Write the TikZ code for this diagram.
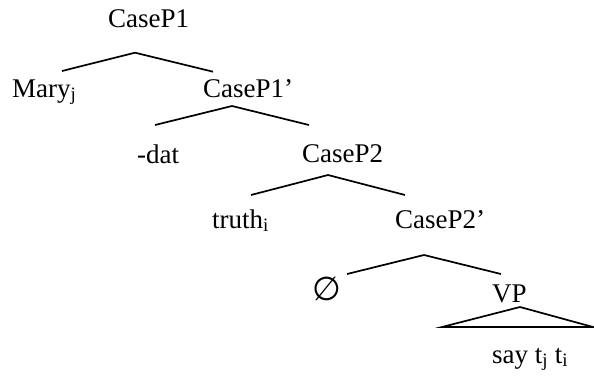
\documentclass[tikz,border=0pt]{standalone}
\usepackage{fontspec}
\setmainfont{Liberation Serif}
\newfontfamily\symfont{DejaVu Sans}
\begin{document}
\begin{tikzpicture}[x=1pt,y=-1pt,
  lbl/.style={anchor=base west,inner sep=0pt,font=\fontsize{27}{32}\selectfont},
  br/.style={line width=1.7pt}]
\useasboundingbox (0,0) rectangle (594,381);
% labels
\node[lbl] (cp1)  at (108,27)  {CaseP1};
\node[lbl] (mary) at (12,97)   {Mary\textsubscript{j}};
\node[lbl] (cp1b) at (203,97)  {CaseP1’};
\node[lbl] (dat)  at (137,163) {-dat};
\node[lbl] (cp2)  at (302,162) {CaseP2};
\node[lbl] (truth) at (212,228) {truth\textsubscript{i}};
\node[lbl] (cp2b) at (395,228) {CaseP2’};
\node[lbl] (empty) at (312,300) {\symfont\fontsize{33}{38}\selectfont ∅};
\node[lbl] (vp)   at (492,302) {VP};
\node[lbl] (say)  at (492,363) {say t\textsubscript{j} t\textsubscript{i}};
% branch points
\coordinate (a1) at (135,52.7);
\coordinate (a1l) at (62,71);
\coordinate (a1r) at (213,71.7);
\coordinate (a2) at (232,106);
\coordinate (a2l) at (155,125);
\coordinate (a2r) at (309,125);
\coordinate (a3) at (328,175);
\coordinate (a3l) at (251,195);
\coordinate (a3r) at (405,195);
\coordinate (a4) at (424,255);
\coordinate (a4l) at (347,274);
\coordinate (a4r) at (501,274);
\coordinate (t1) at (520,307);
\coordinate (t2) at (442,327);
\coordinate (t3) at (593,327);
\draw[br] (a1l) -- (a1) -- (a1r);
\draw[br] (a2l) -- (a2) -- (a2r);
\draw[br] (a3l) -- (a3) -- (a3r);
\draw[br] (a4l) -- (a4) -- (a4r);
\draw[br] (t1) -- (t2) -- (t3) -- cycle;
\end{tikzpicture}
\end{document}
